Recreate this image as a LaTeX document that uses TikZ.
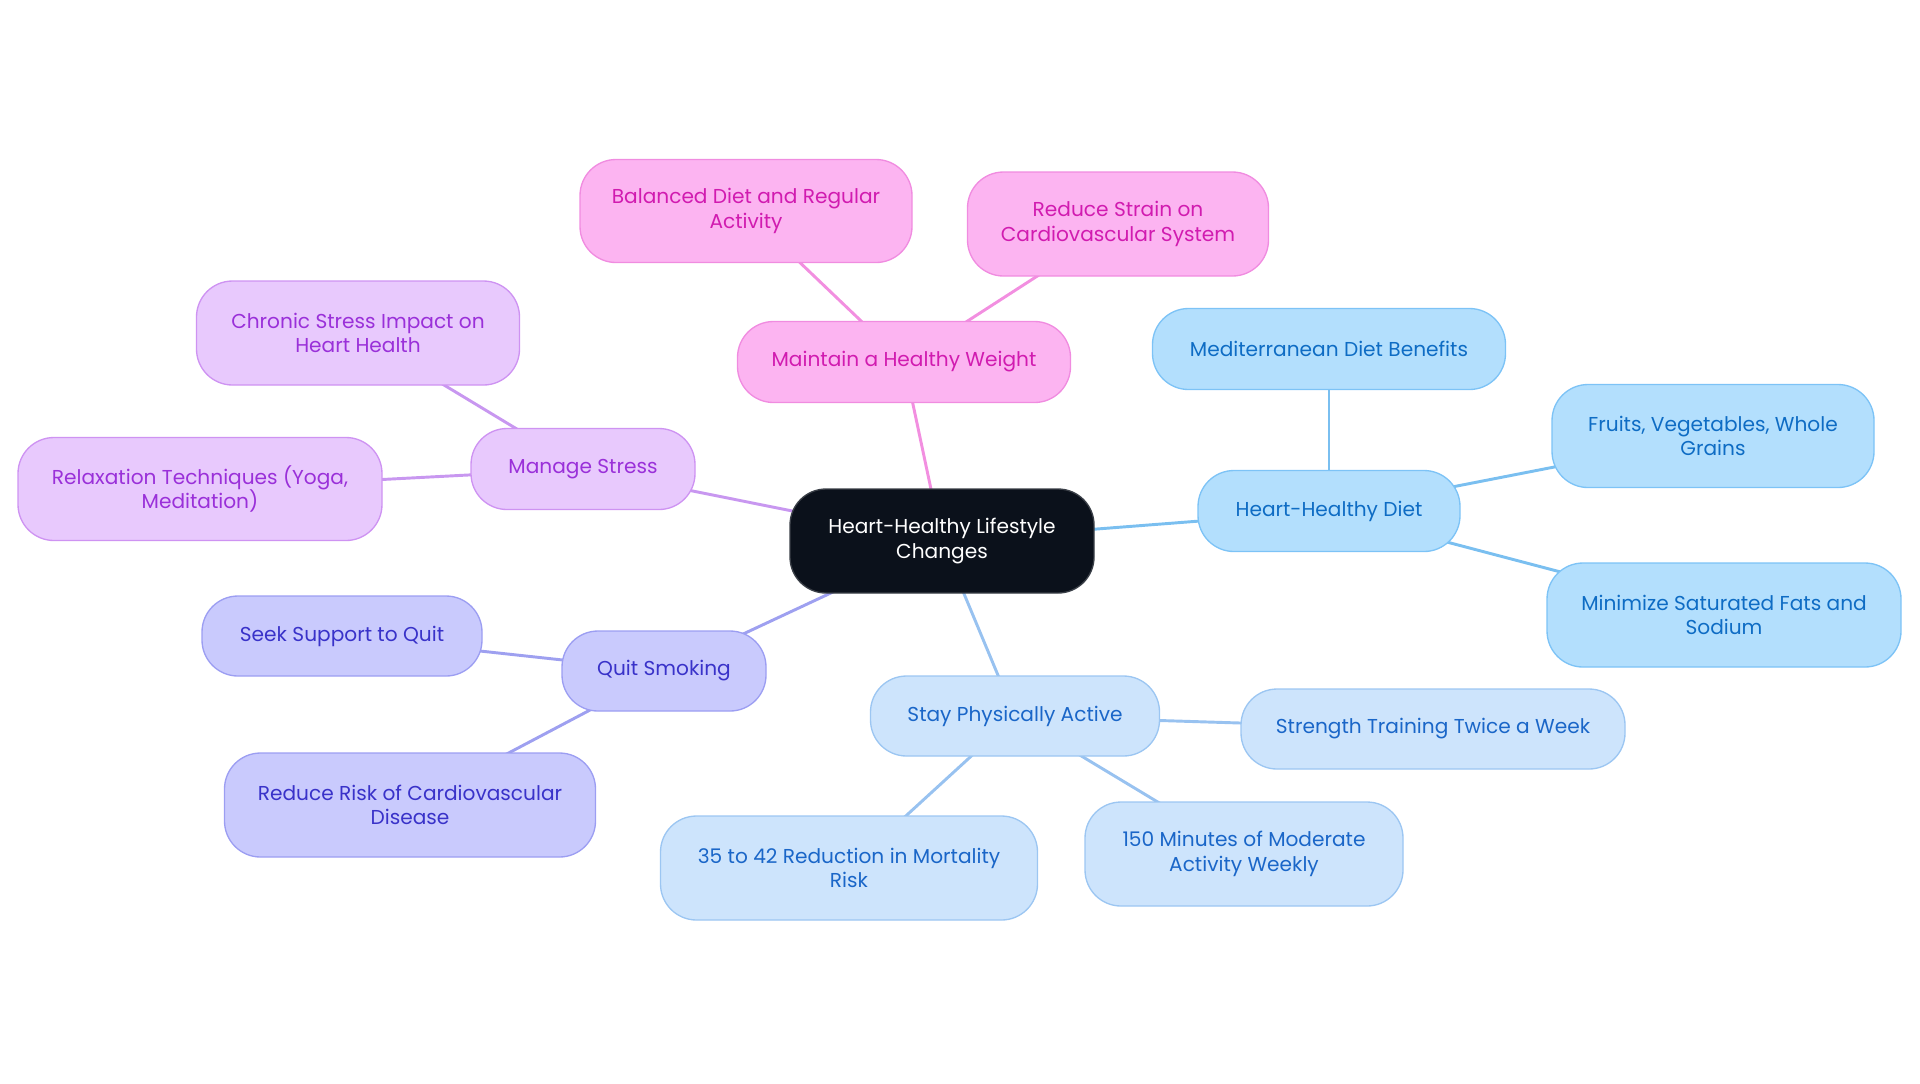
\documentclass[tikz,border=0pt]{standalone}
\usepackage{fontspec}
\setmainfont{Poppins}
\usetikzlibrary{backgrounds}
\definecolor{rootfill}{HTML}{0B111B}
\definecolor{rootdraw}{HTML}{3A3F47}
\definecolor{dietfill}{HTML}{B3DFFD}
\definecolor{dietdraw}{HTML}{7DC3F6}
\definecolor{diettext}{HTML}{0E6CC4}
\definecolor{dietedge}{HTML}{7ABFF0}
\definecolor{actfill}{HTML}{CDE4FC}
\definecolor{actdraw}{HTML}{9CC6F2}
\definecolor{acttext}{HTML}{1A66C8}
\definecolor{actedge}{HTML}{98C2F0}
\definecolor{pinkfill}{HTML}{FCB4F1}
\definecolor{pinkdraw}{HTML}{F08CE0}
\definecolor{pinktext}{HTML}{D11BB0}
\definecolor{pinkedge}{HTML}{F28FE0}
\definecolor{purpfill}{HTML}{E8C9FD}
\definecolor{purpdraw}{HTML}{CE93F2}
\definecolor{purptext}{HTML}{9A30D9}
\definecolor{purpedge}{HTML}{C897F0}
\definecolor{indfill}{HTML}{C9CAFD}
\definecolor{inddraw}{HTML}{9C9EF2}
\definecolor{indtext}{HTML}{3932C9}
\definecolor{indedge}{HTML}{9EA0F0}
\tikzset{
  base/.style={rectangle, rounded corners=27pt, inner sep=0pt, align=center,
    line width=1pt, font=\fontsize{15.1pt}{18.4pt}\selectfont},
  sz/.style 2 args={minimum width=#1*0.75pt, minimum height=#2*0.75pt},
  rootbox/.style={base, fill=rootfill, draw=rootdraw, text=white},
  dietbox/.style={base, fill=dietfill, draw=dietdraw, text=diettext},
  actbox/.style={base, fill=actfill, draw=actdraw, text=acttext},
  pinkbox/.style={base, fill=pinkfill, draw=pinkdraw, text=pinktext},
  purpbox/.style={base, fill=purpfill, draw=purpdraw, text=purptext},
  indbox/.style={base, fill=indfill, draw=inddraw, text=indtext},
  link/.style={line width=2.2pt}
}
\begin{document}
\begin{tikzpicture}[x=0.75pt, y=-0.75pt]
\useasboundingbox (0,0) rectangle (1920,1083);
\node[rootbox, sz={304}{104}] (root) at (942,541) {Heart-Healthy Lifestyle\\Changes};
% diet
\node[dietbox, sz={262}{81}] (diet) at (1329,511) {Heart-Healthy Diet};
\node[dietbox, sz={353}{81}] (med) at (1329,349) {Mediterranean Diet Benefits};
\node[dietbox, sz={322}{103}] (fruit) at (1713,436) {Fruits, Vegetables, Whole\\Grains};
\node[dietbox, sz={354}{104}] (fats) at (1724,615) {Minimize Saturated Fats and\\Sodium};
% weight
\node[pinkbox, sz={333}{81}] (weight) at (904,362) {Maintain a Healthy Weight};
\node[pinkbox, sz={332}{103}] (bal) at (746,211) {Balanced Diet and Regular\\Activity};
\node[pinkbox, sz={301}{104}] (strain) at (1118,224) {Reduce Strain on\\Cardiovascular System};
% stress
\node[purpbox, sz={224}{81}] (stress) at (583,469) {Manage Stress};
\node[purpbox, sz={323}{104}] (chronic) at (358,333) {Chronic Stress Impact on\\Heart Health};
\node[purpbox, sz={364}{103}] (relax) at (200,489) {Relaxation Techniques (Yoga,\\Meditation)};
% smoking
\node[indbox, sz={204}{80}] (quit) at (664,671) {Quit Smoking};
\node[indbox, sz={280}{80}] (seek) at (342,636) {Seek Support to Quit};
\node[indbox, sz={371}{104}] (risk) at (410,805) {Reduce Risk of Cardiovascular\\Disease};
% active
\node[actbox, sz={289}{80}] (active) at (1015,716) {Stay Physically Active};
\node[actbox, sz={384}{80}] (strength) at (1433,729) {Strength Training Twice a Week};
\node[actbox, sz={377}{104}] (mort) at (849,868) {35 to 42 Reduction in Mortality\\Risk};
\node[actbox, sz={318}{104}] (mins) at (1244,854) {150 Minutes of Moderate\\Activity Weekly};
\begin{scope}[on background layer]
\draw[link, dietedge] (root.center) -- (diet.center);
\draw[link, dietedge] (diet.center) -- (med.center);
\draw[link, dietedge] (diet.center) -- (fruit.center);
\draw[link, dietedge] (diet.center) -- (fats.center);
\draw[link, pinkedge] (root.center) -- (weight.center);
\draw[link, pinkedge] (weight.center) -- (bal.center);
\draw[link, pinkedge] (weight.center) -- (strain.center);
\draw[link, purpedge] (root.center) -- (stress.center);
\draw[link, purpedge] (stress.center) -- (chronic.center);
\draw[link, purpedge] (stress.center) -- (relax.center);
\draw[link, indedge] (root.center) -- (quit.center);
\draw[link, indedge] (quit.center) -- (seek.center);
\draw[link, indedge] (quit.center) -- (risk.center);
\draw[link, actedge] (root.center) -- (active.center);
\draw[link, actedge] (active.center) -- (strength.center);
\draw[link, actedge] (active.center) -- (mort.center);
\draw[link, actedge] (active.center) -- (mins.center);
\end{scope}
\end{tikzpicture}
\end{document}
